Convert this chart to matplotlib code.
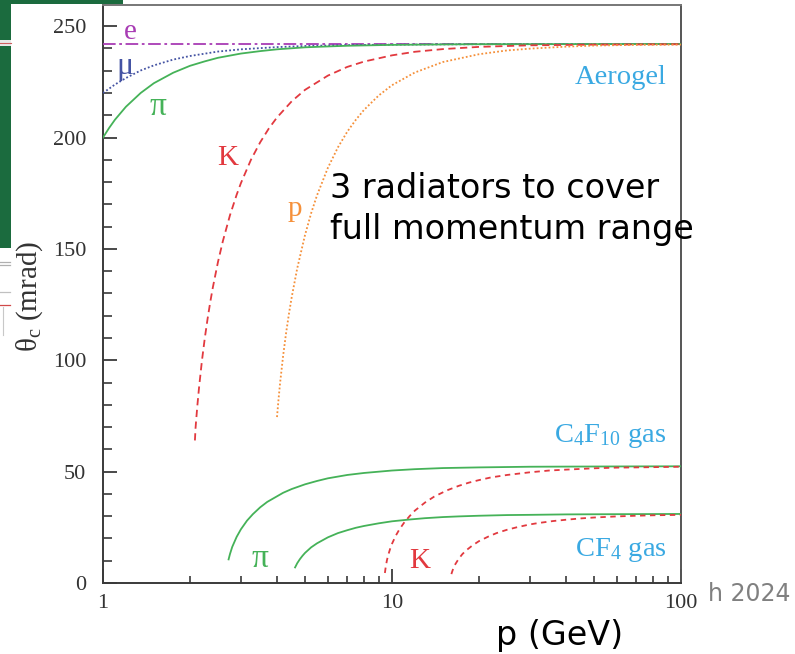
import matplotlib
matplotlib.use("Agg")
import matplotlib.pyplot as plt
from matplotlib.patches import Rectangle
from matplotlib.lines import Line2D
from matplotlib.ticker import FixedLocator, NullFormatter

# ---------------- data ----------------
# Aerogel radiator
e_p = [1, 100]
e_theta = [242, 242]

mu_p = [1, 1.1, 1.2, 1.35, 1.5, 1.75, 2, 2.5, 3, 4, 5, 7, 10, 20, 100]
mu_theta = [220, 223.8, 226.7, 230.1, 232.4, 235.0, 236.6, 238.6, 239.6, 240.6, 241.1,
            241.5, 241.7, 241.9, 242]

pi_aero_p = [1, 1.05, 1.1, 1.2, 1.35, 1.5, 1.75, 2, 2.25, 2.5, 3, 3.5, 4, 5, 6, 7, 10, 15,
             20, 100]
pi_aero_theta = [200, 204.3, 208.0, 213.8, 220.0, 224.4, 229.1, 232.2, 234.2, 235.8, 237.7,
                 238.8, 239.6, 240.5, 240.9, 241.2, 241.6, 241.8, 241.9, 242]

k_aero_p = [2.08, 2.09, 2.1, 2.12, 2.15, 2.2, 2.25, 2.3, 2.35, 2.4, 2.5, 2.6, 2.75, 2.9, 3,
            3.25, 3.5, 3.75, 4, 4.5, 5, 6, 7, 8, 10, 12, 15, 20, 30, 50, 100]
k_aero_theta = [64, 69.4, 72.9, 79.4, 87.9, 99.9, 109.9, 118.5, 126.1, 132.8, 144.2, 153.6,
                165.1, 174.3, 179.5, 190.0, 197.9, 204.1, 209.0, 216.3, 221.4, 227.8, 231.7,
                234.1, 236.9, 238.5, 239.7, 240.7, 241.4, 241.7, 241.9]

p_aero_p = [4.0, 4.05, 4.1, 4.2, 4.3, 4.4, 4.5, 4.7, 5, 5.25, 5.5, 6, 6.5, 7, 7.5, 8, 9, 10,
            12, 15, 20, 25, 30, 40, 50, 70, 100]
p_aero_theta = [74.5, 82.6, 89.8, 102, 112.2, 120.9, 128.5, 141.3, 156.2, 166.0, 174.0, 186.4,
                195.6, 202.6, 208.0, 212.4, 218.9, 223.5, 229.2, 233.9, 237.4, 239.1, 239.9,
                240.8, 241.3, 241.6, 241.7]

# C4F10 gas radiator
pi_c4_p = [2.72, 2.75, 2.8, 2.9, 3.0, 3.15, 3.3, 3.5, 3.7, 4.2, 4.5, 5, 5.5, 6, 7, 8, 10, 12,
           15, 20, 30, 50, 100]
pi_c4_theta = [10.6, 13.0, 16.2, 20.7, 24.1, 28.0, 30.9, 34.0, 36.4, 40.5, 42.2, 44.3, 45.8,
               47.0, 48.5, 49.4, 50.5, 51.1, 51.6, 51.9, 52.2, 52.3, 52.4]

k_c4_p = [9.45, 9.5, 9.6, 9.7, 9.85, 10, 10.3, 10.6, 11, 11.5, 12, 13, 14, 15.5, 17, 18.5, 20,
          22, 25, 30, 35, 40, 50, 60, 70, 100]
k_c4_theta = [4.5, 6.7, 10.1, 12.5, 15.3, 17.6, 21.2, 24.0, 27.0, 30.0, 32.5, 36.1, 38.8, 41.6,
              43.6, 45.1, 46.2, 47.4, 48.5, 49.7, 50.5, 50.9, 51.5, 51.8, 51.9, 52.2]

# CF4 gas radiator
pi_cf4_p = [4.62, 4.7, 4.8, 4.9, 5, 5.25, 5.5, 6, 6.5, 7, 7.5, 8, 9, 10, 11.5, 13, 15, 17, 20,
            25, 30, 40, 60, 100]
pi_cf4_theta = [7.0, 8.9, 10.7, 12.2, 13.5, 16.0, 17.8, 20.5, 22.4, 23.7, 24.8, 25.6, 26.8,
                27.7, 28.5, 29.1, 29.6, 29.9, 30.2, 30.5, 30.6, 30.8, 30.9, 31.0]

k_cf4_p = [16.05, 16.15, 16.3, 16.5, 17, 17.5, 18, 19, 20, 21.5, 23, 25, 27, 30, 32, 36, 40, 45,
           50, 60, 70, 80, 100]
k_cf4_theta = [4.0, 5.1, 6.6, 8.1, 10.8, 12.9, 14.5, 16.9, 18.8, 20.8, 22.4, 23.9, 25.0, 26.3,
               26.9, 27.8, 28.4, 29.0, 29.4, 29.9, 30.2, 30.4, 30.6]

x_ticks = [1, 10, 100]
x_ticklabels = ["1", "10", "100"]
y_ticks = [0, 50, 100, 150, 200, 250]
y_minor = list(range(0, 260, 10))

# ---------------- style ----------------
C_E = "#a83cb4"
C_MU = "#4453a3"
C_PI = "#45b258"
C_K = "#e2393f"
C_P = "#f5903a"
C_RAD = "#3aa9e2"
serif = ["Liberation Serif", "DejaVu Serif"]
sans = ["DejaVu Sans"]

plt.rcParams["mathtext.fontset"] = "custom"
plt.rcParams["mathtext.rm"] = "Liberation Serif"
plt.rcParams["mathtext.it"] = "Liberation Serif:italic"

W, H = 795, 654
fig = plt.figure(figsize=(7.95, 6.54), dpi=100)
fig.patch.set_facecolor("white")


def fx(px):
    return px / W


def fy(py):
    return 1 - py / H


# slide artefacts at the left edge
fig.patches.append(Rectangle((0, fy(248)), fx(11), 248 / H, transform=fig.transFigure,
                             facecolor="#1b6b3e", edgecolor="none", zorder=0))
fig.patches.append(Rectangle((fx(11), fy(4)), fx(112), 4 / H, transform=fig.transFigure,
                             facecolor="#1b6b3e", edgecolor="none", zorder=0))
fig.patches.append(Rectangle((0, fy(46)), fx(11), 6 / H, transform=fig.transFigure,
                             facecolor="#e8e8e8", edgecolor="none", zorder=1))
fig.lines.append(Line2D([0, fx(11)], [fy(43), fy(43)], transform=fig.transFigure,
                        color="#d06060", lw=0.8))
for yy, cc in [(262, "#b0b0b0"), (265, "#b0b0b0"), (292, "#c0c0c0"), (305, "#d04848")]:
    fig.lines.append(Line2D([0, fx(10)], [fy(yy), fy(yy)], transform=fig.transFigure,
                            color=cc, lw=0.9))
fig.lines.append(Line2D([fx(3), fx(3)], [fy(307), fy(335)], transform=fig.transFigure,
                        color="#c8c8c8", lw=0.8))

ax = fig.add_axes([fx(103), fy(583), (681 - 103) / W, (583 - 5) / H])
ax.set_xscale("log")
ax.set_xlim(1, 100)
ax.set_ylim(0, 259.5)

lw = 1.3
ax.plot(e_p, e_theta, color=C_E, lw=lw, dashes=[7, 2, 1.5, 2], zorder=3)
ax.plot(mu_p, mu_theta, color=C_MU, lw=lw, dashes=[1, 1.2], zorder=3)
ax.plot(pi_aero_p, pi_aero_theta, color=C_PI, lw=lw, zorder=3)
ax.plot(k_aero_p, k_aero_theta, color=C_K, lw=lw, dashes=[4, 2.5], zorder=3)
ax.plot(p_aero_p, p_aero_theta, color=C_P, lw=lw, dashes=[1, 1.2], zorder=3)

ax.plot(pi_c4_p, pi_c4_theta, color=C_PI, lw=lw, zorder=3)
ax.plot(k_c4_p, k_c4_theta, color=C_K, lw=lw, dashes=[3, 2.5], zorder=3)
ax.plot(pi_cf4_p, pi_cf4_theta, color=C_PI, lw=lw, zorder=3)
ax.plot(k_cf4_p, k_cf4_theta, color=C_K, lw=lw, dashes=[3, 2.5], zorder=3)

# particle labels
ax.text(1.24, 247.5, "e", color=C_E, family=serif, fontsize=21, ha="center", va="center")
ax.text(1.19, 232, "μ", color=C_MU, family=serif, fontsize=23, ha="center", va="center")
ax.text(1.55, 214, "π", color=C_PI, family=serif, fontsize=24, ha="center", va="center")
ax.text(2.71, 191, "K", color=C_K, family=serif, fontsize=21, ha="center", va="center")
ax.text(4.62, 168, "p", color=C_P, family=serif, fontsize=21, ha="center", va="center")
ax.text(3.49, 11, "π", color=C_PI, family=serif, fontsize=24, ha="center", va="center")
ax.text(12.5, 10, "K", color=C_K, family=serif, fontsize=21, ha="center", va="center")

rad_fs = 20.5
ax.text(89, 227, "Aerogel", color=C_RAD, family=serif, fontsize=rad_fs, ha="right", va="center")
ax.text(89, 66, r"C$_4$F$_{10}$ gas", color=C_RAD, family=serif, fontsize=rad_fs,
        ha="right", va="center")
ax.text(89, 15, r"CF$_4$ gas", color=C_RAD, family=serif, fontsize=rad_fs,
        ha="right", va="center")

# annotation text (two lines)
fig.text(fx(330), fy(198), "3 radiators to cover", family=sans, fontsize=24, color="black",
         ha="left", va="baseline", zorder=5)
fig.text(fx(330), fy(239), "full momentum range", family=sans, fontsize=24, color="black",
         ha="left", va="baseline", zorder=5)

# axes styling
for s in ax.spines.values():
    s.set_color("#3a3a3a")
    s.set_linewidth(1.4)
ax.spines["top"].set_color("#777777")
ax.spines["right"].set_color("#555555")

ax.xaxis.set_major_locator(FixedLocator(x_ticks))
ax.set_xticklabels(x_ticklabels)
ax.xaxis.set_minor_formatter(NullFormatter())
ax.yaxis.set_major_locator(FixedLocator(y_ticks))
ax.yaxis.set_minor_locator(FixedLocator(y_minor))
ax.tick_params(axis="both", which="both", direction="in", top=False, right=False,
               color="#3a3a3a", labelcolor="#333333")
ax.tick_params(axis="y", which="major", length=10, width=1.3, pad=12, labelsize=16)
ax.tick_params(axis="y", which="minor", length=6.5, width=1.2)
ax.tick_params(axis="x", which="major", length=10, width=1.3, pad=8, labelsize=16)
ax.tick_params(axis="x", which="minor", length=5, width=1.2)
for lab in ax.get_xticklabels() + ax.get_yticklabels():
    lab.set_family(serif)

fig.text(fx(30), fy(296), r"θ$_{\rm c}$ (mrad)", rotation=90, family=serif,
         fontsize=21, color="#333333", ha="center", va="center")

fig.text(fx(560), fy(636), "p (GeV)", family=sans, fontsize=24,
         color="black", ha="center", va="center")
fig.text(fx(708), fy(594), "h 2024", family=sans, fontsize=17, color="#808080",
         ha="left", va="center")

fig.savefig("out.png", dpi=100, facecolor="white")
